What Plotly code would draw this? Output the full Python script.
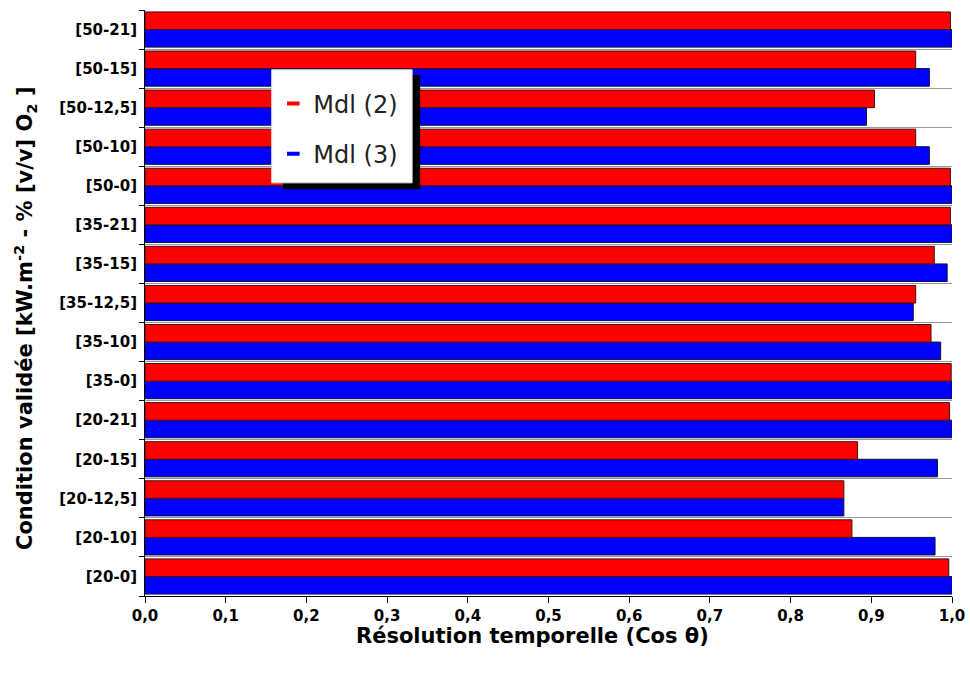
import plotly.graph_objects as go

categories = ["[20-0]", "[20-10]", "[20-12,5]", "[20-15]", "[20-21]",
              "[35-0]", "[35-10]", "[35-12,5]", "[35-15]", "[35-21]",
              "[50-0]", "[50-10]", "[50-12,5]", "[50-15]", "[50-21]"]
mdl2 = [0.996, 0.876, 0.866, 0.883, 0.997,
        0.999, 0.974, 0.955, 0.978, 0.998,
        0.998, 0.955, 0.904, 0.955, 0.998]
mdl3 = [1.0, 0.979, 0.866, 0.982, 1.0,
        1.0, 0.986, 0.952, 0.994, 1.0,
        1.0, 0.972, 0.894, 0.972, 1.0]
series_names = ["Mdl (2)", "Mdl (3)"]
x_ticks = [0.0, 0.1, 0.2, 0.3, 0.4, 0.5, 0.6, 0.7, 0.8, 0.9, 1.0]
x_title = "Résolution temporelle (Cos θ)"
y_title = "Condition validée [kW.m<sup>-2</sup> - % [v/v] O<sub>2</sub> ]"

RED = "#ff0000"
BLUE = "#0000ff"
FONT = "DejaVu Sans, Liberation Sans, Arial, sans-serif"

fig = go.Figure()
fig.add_trace(go.Bar(y=categories, x=mdl3, orientation="h", name=series_names[1],
                     marker=dict(color=BLUE, line=dict(color="#101040", width=1)),
                     showlegend=False))
fig.add_trace(go.Bar(y=categories, x=mdl2, orientation="h", name=series_names[0],
                     marker=dict(color=RED, line=dict(color="#401010", width=1)),
                     showlegend=False))
# legend-only entries with short dash symbols
fig.add_trace(go.Scatter(x=[None], y=[None], mode="markers", name=series_names[0],
                         legendgroup="a",
                         marker=dict(symbol="line-ew", size=9, line=dict(color=RED, width=4))))
fig.add_trace(go.Scatter(x=[None], y=[None], mode="markers", name=series_names[1],
                         legendgroup="b",
                         marker=dict(symbol="line-ew", size=9, line=dict(color=BLUE, width=4))))

# legend drop shadow and box
fig.add_shape(type="rect", xref="paper", yref="paper",
              x0=0.171, x1=0.341, y0=0.694, y1=0.889,
              fillcolor="black", line=dict(width=0), layer="above")
fig.add_shape(type="rect", xref="paper", yref="paper",
              x0=0.157, x1=0.331, y0=0.705, y1=0.898,
              fillcolor="white", line=dict(color="#dddddd", width=1), layer="above")

# axis titles
fig.add_annotation(text="<b>" + x_title + "</b>", xref="paper", yref="paper",
                   x=0.48, y=0, xanchor="center", yanchor="top", yshift=-26,
                   showarrow=False, font=dict(size=21, family=FONT, color="black"))
fig.add_annotation(text="<b>" + y_title + "</b>", xref="paper", yref="paper",
                   x=-0.149, y=0.474, xanchor="center", yanchor="middle", textangle=-90,
                   showarrow=False, font=dict(size=21, family=FONT, color="black"))

fig.update_layout(
    width=970, height=677,
    margin=dict(l=145, r=18, t=10, b=81),
    paper_bgcolor="white", plot_bgcolor="white",
    barmode="group", bargap=0.1, bargroupgap=0.0,
    separators=", ",
    font=dict(family=FONT, color="black"),
    legend=dict(x=0.159, y=0.878, xanchor="left", yanchor="top",
                bgcolor="rgba(0,0,0,0)", borderwidth=0,
                font=dict(size=24, family=FONT, color="#222222"),
                tracegroupgap=16, traceorder="grouped",
                itemwidth=30),
    xaxis=dict(range=[0, 1.0], tickvals=x_ticks, tickformat=".1f",
               showgrid=False, zeroline=False, automargin=False,
               showline=True, linecolor="black", linewidth=1,
               ticks="outside", ticklen=6, tickcolor="black",
               tickfont=dict(size=15, family=FONT, weight="bold")),
    yaxis=dict(type="category", categoryorder="array", categoryarray=categories,
               range=[-0.5, 14.5], automargin=False,
               tickson="boundaries", showgrid=True, gridcolor="#999999", gridwidth=1,
               showline=True, linecolor="black", linewidth=1,
               ticks="outside", ticklen=5, tickcolor="black", ticklabelstandoff=4,
               tickfont=dict(size=15, family=FONT, weight="bold")),
)

fig.write_html("out.html", config={"displayModeBar": False},
               post_script="document.body.style.margin='0';document.body.style.overflow='hidden';")
